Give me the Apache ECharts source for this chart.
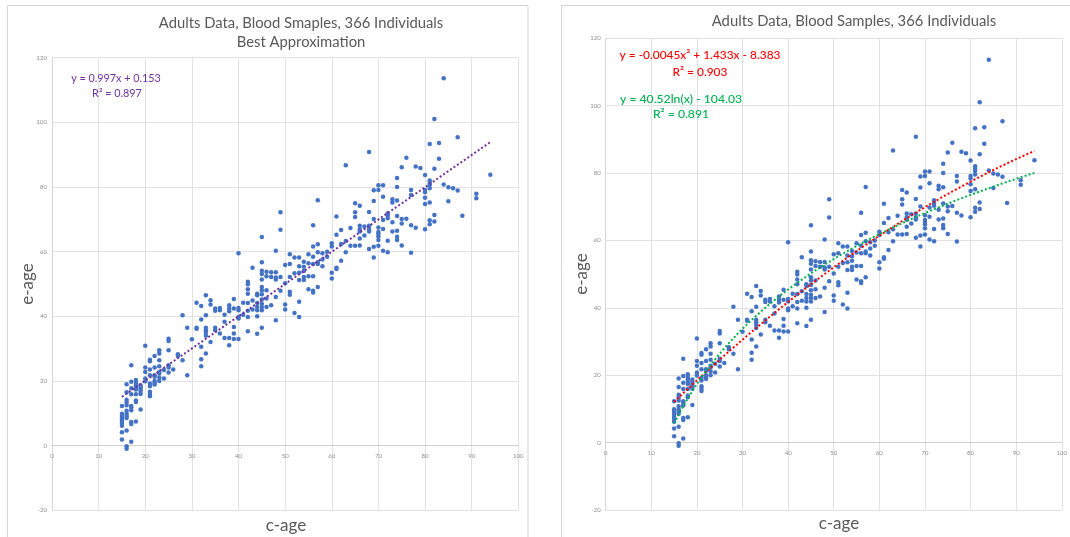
<!DOCTYPE html>
<html>
<head>
<meta charset="utf-8">
<script src="https://cdn.jsdelivr.net/npm/echarts@6/dist/echarts.min.js"></script>
<style>
  html, body { margin: 0; padding: 0; background: #ffffff; }
  #main { width: 1070px; height: 537px; }
</style>
</head>
<body>
<div id="main"></div>
<script>
// Chronological age (c-age) groups and the epigenetic ages (e-age) measured in each group
const cAgeGroups = [15, 16, 17, 18, 19, 20, 21, 22, 23, 24, 25, 26, 27, 28, 29, 30, 31, 32, 33, 34,
  35, 36, 37, 38, 39, 40, 41, 42, 43, 44, 45, 46, 47, 48, 49, 50, 51, 52, 53, 54, 55, 56, 57, 58,
  59, 60, 61, 62, 63, 64, 65, 66, 67, 68, 69, 70, 71, 72, 73, 74, 75, 76, 77, 78, 79, 80, 81, 82,
  83, 84, 85, 86, 87, 88, 91, 94];
const eAgeGroups = [
  [12.3, 9.9, 9.2, 8.5, 7.7, 7.0, 6.2, 4.2, 1.9],
  [19.0, 16.5, 14.2, 13.4, 12.5, 10.8, 9.9, 9.2, 8.6, 4.7, -0.2, -0.9],
  [24.9, 19.8, 17.8, 15.9, 12.3, 11.8, 11.0, 7.3, 6.7, 1.2],
  [20.3, 19.4, 18.7, 18.0, 17.4, 15.9, 14.0, 13.5, 7.5],
  [18.7, 18.0, 17.4, 16.7, 16.0, 11.2],
  [30.9, 24.2, 22.8, 20.8, 19.9],
  [26.6, 26.1, 23.6, 21.8, 19.2, 18.4, 16.7, 16.0, 15.3],
  [27.7, 24.2, 21.8, 21.3, 20.0, 19.4, 18.9],
  [29.5, 28.5, 26.4, 24.6, 22.8, 22.3, 21.1, 20.0],
  [23.4, 20.8],
  [33.1, 32.4, 29.5, 24.9, 24.2, 22.6],
  [23.6],
  [28.3, 27.7],
  [40.3, 26.4],
  [36.5, 21.8],
  [32.9],
  [44.2, 36.5, 36.2],
  [43.2, 39.0, 30.6, 26.7, 24.6],
  [46.5, 40.3, 36.5, 35.7, 35.0, 34.0, 28.5],
  [45.0, 43.7, 32.1],
  [42.4, 41.7, 36.5, 35.7],
  [42.6, 41.9, 34.7],
  [40.5, 38.3, 33.3],
  [43.4, 42.4, 41.6, 33.3, 31.1],
  [45.4, 42.4, 36.7, 34.7, 33.0],
  [59.5, 42.6, 41.9, 39.8, 39.3, 33.0],
  [44.2, 40.5],
  [50.7, 49.9, 48.4, 47.0, 44.1, 41.7, 39.8, 35.4],
  [55.0, 44.9, 42.1],
  [47.0, 46.5, 44.1, 42.9, 41.9, 40.0, 34.6],
  [64.5, 56.7, 54.1, 53.1, 51.4, 49.1, 48.1, 46.8, 45.2, 43.9, 42.9, 41.9, 36.5],
  [53.8, 52.4, 48.1, 45.5, 42.9],
  [53.6, 52.2, 43.4],
  [60.3, 53.6, 52.0, 51.4, 46.0, 38.8],
  [72.2, 66.8, 52.2, 47.9],
  [55.9, 50.2, 43.7, 42.1],
  [59.2, 56.2, 52.2, 47.6, 46.7],
  [58.2, 53.3, 41.0],
  [58.2, 55.5, 53.5, 51.2, 44.5, 39.8],
  [56.9, 55.3, 54.0, 52.2, 51.2],
  [59.2, 56.4, 52.4, 48.4],
  [68.2, 61.6, 58.4, 56.2, 52.4, 47.9, 47.4],
  [75.9, 62.3, 59.8, 56.7, 56.2, 49.1],
  [59.5, 57.6, 55.5],
  [60.0, 58.4],
  [62.6, 61.6, 53.5, 51.7],
  [70.9, 65.2, 55.0, 54.6],
  [66.7, 62.4, 57.2],
  [86.7, 63.3, 59.8],
  [67.3, 61.8],
  [75.0, 72.2, 70.7, 61.8],
  [74.2, 68.0, 66.9, 66.2, 64.1, 61.9],
  [67.8, 65.0],
  [90.8, 72.3, 68.0, 66.9, 66.2, 60.8],
  [79.0, 75.7, 70.1, 61.5, 58.2],
  [80.5, 79.1, 67.5, 66.1, 65.5, 64.8, 63.6, 61.8],
  [80.5, 77.0, 69.8, 67.0, 60.3],
  [71.9, 71.1, 70.3, 63.4, 59.8],
  [76.2, 75.2, 69.1, 66.2],
  [82.8, 80.0, 75.8, 71.0, 66.5, 64.6, 63.6],
  [86.1, 70.1, 68.7, 61.9],
  [89.0, 70.2],
  [79.1, 77.5, 68.2, 59.7],
  [86.3, 67.4],
  [85.9],
  [83.7, 79.1, 78.4, 76.7, 74.7, 66.9],
  [93.3, 82.0, 81.3, 80.6, 79.6, 75.2, 69.7, 68.5],
  [101.0, 85.6, 71.3, 69.3],
  [93.6, 88.7],
  [113.6, 80.8],
  [79.9, 75.6],
  [79.6],
  [95.4, 78.9],
  [71.1],
  [77.9, 76.5],
  [83.8]
];

// Axis ticks
const xTicks = [0, 10, 20, 30, 40, 50, 60, 70, 80, 90, 100];
const yTicks = [-20, 0, 20, 40, 60, 80, 100, 120];

// Trendline coefficients and the c-age span they cover
const linearFit = [0.997, 0.153];          // y = a x + b
const quadFit = [-0.0045, 1.433, -8.383];  // y = a x^2 + b x + c
const logFit = [40.52, -104.03];           // y = a ln(x) + b
const fitRange = [15, 94];
const r2Values = [0.897, 0.903, 0.891];

const points = [];
cAgeGroups.forEach((c, i) => eAgeGroups[i].forEach(e => points.push([c, e])));

const fitXs = [];
for (let x = fitRange[0]; x <= fitRange[1]; x++) fitXs.push(x);
const linearLine = [fitRange[0], fitRange[1]].map(x => [x, linearFit[0] * x + linearFit[1]]);
const quadLine = fitXs.map(x => [x, quadFit[0] * x * x + quadFit[1] * x + quadFit[2]]);
const logLine = fitXs.map(x => [x, logFit[0] * Math.log(x) + logFit[1]]);

const FONT = 'Lato, "Open Sans", sans-serif';
const gridColor = '#e1e1e1';
const labelColor = '#8c8c8c';

const grids = [
  { left: 52, top: 57.6, width: 466.3, height: 452.8 },
  { left: 605.7, top: 38.3, width: 466, height: 471.7 }
];
const yMin = yTicks[0], yMax = yTicks[yTicks.length - 1];

// the category axis sits on the e-age = 0 line, so shift it up from the grid bottom
function zeroOffset(g) {
  return -g.height * (0 - yMin) / (yMax - yMin);
}

function xAxisFor(gridIndex) {
  return {
    type: 'value', gridIndex,
    min: xTicks[0], max: xTicks[xTicks.length - 1], interval: 10,
    offset: zeroOffset(grids[gridIndex]),
    axisLine: { show: true, onZero: false, lineStyle: { color: '#cfcfcf', width: 1 } },
    axisTick: { show: false },
    axisLabel: { fontSize: 6, color: labelColor, margin: 7, fontFamily: FONT },
    splitLine: { show: true, lineStyle: { color: gridColor, width: 1 } }
  };
}
function yAxisFor(gridIndex) {
  return {
    type: 'value', gridIndex,
    min: yMin, max: yMax, interval: 20,
    axisLine: { show: true, onZero: false, lineStyle: { color: '#d6d6d6', width: 1 } },
    axisTick: { show: false },
    axisLabel: { fontSize: 6, color: labelColor, margin: 5, fontFamily: FONT },
    splitLine: { show: true, lineStyle: { color: gridColor, width: 1 } }
  };
}

function txt(x, y, text, size, color, opts) {
  opts = opts || {};
  return {
    type: 'text', x, y, rotation: opts.rotation || 0, z: 10,
    style: {
      text, fill: color,
      font: (opts.weight || 'normal') + ' ' + size + 'px ' + FONT,
      textAlign: 'center', textVerticalAlign: 'middle',
      align: 'center', verticalAlign: 'middle'
    }
  };
}

const chart = echarts.init(document.getElementById('main'));
chart.setOption({
  backgroundColor: '#ffffff',
  animation: false,
  grid: grids,
  xAxis: [xAxisFor(0), xAxisFor(1)],
  yAxis: [yAxisFor(0), yAxisFor(1)],
  series: [
    {
      type: 'scatter', xAxisIndex: 0, yAxisIndex: 0, data: points,
      symbolSize: 4.5, itemStyle: { color: '#4472C4', opacity: 1 }
    },
    {
      type: 'line', xAxisIndex: 0, yAxisIndex: 0, data: linearLine,
      showSymbol: false, symbol: 'none', z: 3,
      lineStyle: { color: '#7030A0', width: 2, type: [2, 2.2] }
    },
    {
      type: 'scatter', xAxisIndex: 1, yAxisIndex: 1, data: points,
      symbolSize: 4.5, itemStyle: { color: '#4472C4', opacity: 1 }
    },
    {
      type: 'line', xAxisIndex: 1, yAxisIndex: 1, data: quadLine,
      showSymbol: false, symbol: 'none', z: 3,
      lineStyle: { color: '#FF0000', width: 2, type: [2, 2.2] }
    },
    {
      type: 'line', xAxisIndex: 1, yAxisIndex: 1, data: logLine,
      showSymbol: false, symbol: 'none', z: 3,
      lineStyle: { color: '#00B050', width: 2, type: [2, 2.2] }
    }
  ],
  graphic: [
    // chart area frames
    { type: 'rect', shape: { x: 7.5, y: 5.5, width: 520.5, height: 600 }, z: 0,
      style: { fill: 'none', stroke: '#d4d4d4', lineWidth: 1 } },
    { type: 'rect', shape: { x: 561.5, y: 5.5, width: 600, height: 600 }, z: 0,
      style: { fill: 'none', stroke: '#d4d4d4', lineWidth: 1 } },
    // titles
    txt(301, 23, 'Adults Data, Blood Smaples, 366 Individuals', 14.8, '#595959'),
    txt(301, 42, 'Best Approximation', 14.8, '#595959'),
    txt(854, 21, 'Adults Data, Blood Samples, 366 Individuals', 14.8, '#595959'),
    // trendline equations
    txt(116, 79, 'y = ' + linearFit[0] + 'x + ' + linearFit[1], 10.8, '#7030A0'),
    txt(117, 94, 'R\u00B2 = ' + r2Values[0], 10.8, '#7030A0'),
    txt(700, 55, 'y = ' + quadFit[0] + 'x\u00B2 + ' + quadFit[1] + 'x - ' + Math.abs(quadFit[2]), 11.9, '#FF0000', { weight: '500' }),
    txt(700, 72, 'R\u00B2 = ' + r2Values[1], 11.9, '#FF0000', { weight: '500' }),
    txt(681, 99, 'y = ' + logFit[0] + 'ln(x) - ' + Math.abs(logFit[1]), 12.2, '#00B050', { weight: '500' }),
    txt(681, 114, 'R\u00B2 = ' + r2Values[2], 12.2, '#00B050', { weight: '500' }),
    // axis titles
    txt(28, 284, 'e-age', 17, '#595959', { rotation: Math.PI / 2 }),
    txt(286, 526, 'c-age', 17, '#595959'),
    txt(582, 274, 'e-age', 17, '#595959', { rotation: Math.PI / 2 }),
    txt(839, 524, 'c-age', 17, '#595959')
  ]
});
</script>
</body>
</html>
